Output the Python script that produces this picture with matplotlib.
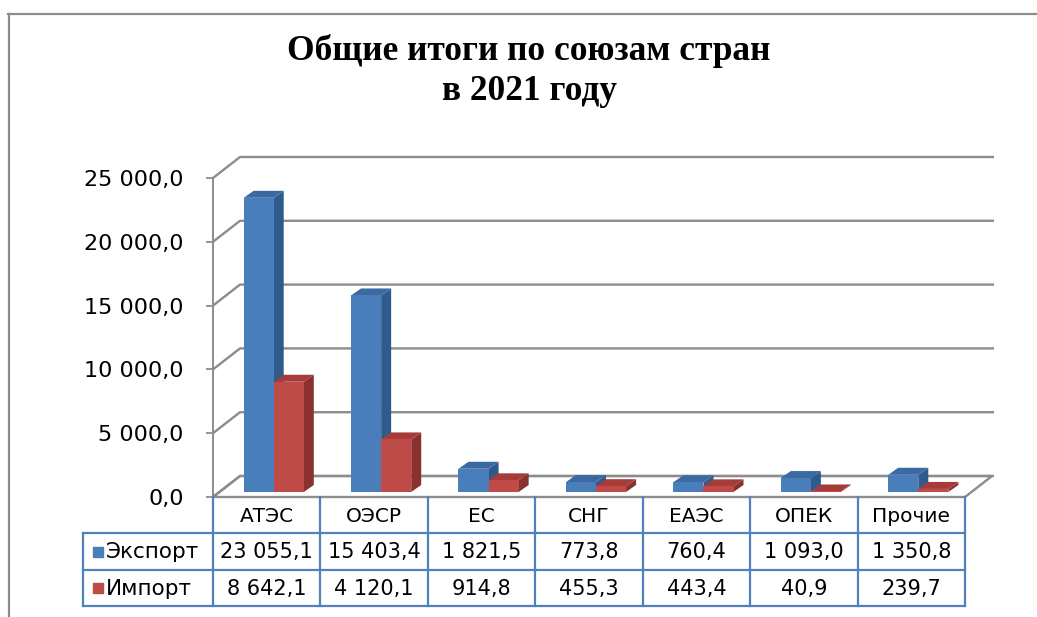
import matplotlib
matplotlib.use("Agg")
import matplotlib.pyplot as plt
from matplotlib.patches import Polygon
from matplotlib.lines import Line2D

# ---------------- data ----------------
categories = ["АТЭС", "ОЭСР", "ЕС", "СНГ", "ЕАЭС", "ОПЕК", "Прочие"]
export_vals = [23055.1, 15403.4, 1821.5, 773.8, 760.4, 1093.0, 1350.8]
import_vals = [8642.1, 4120.1, 914.8, 455.3, 443.4, 40.9, 239.7]
series_names = ["Экспорт", "Импорт"]
y_ticks = [0, 5000, 10000, 15000, 20000, 25000]
title = "Общие итоги по союзам стран\nв 2021 году"


def fmt(v):
    return f"{v:,.1f}".replace(",", " ").replace(".", ",")


# ---------------- styling ----------------
W, H = 1037, 617
GRAY = "#8c8c8c"
TBL = "#4f81bd"
BLUE = ("#4a7ebb", "#2f5a8c", "#3b6aa3")   # front, side, top
RED = ("#be4b48", "#8a302d", "#a53c39")

plt.rcParams["font.family"] = ["DejaVu Sans"]

fig = plt.figure(figsize=(W / 100, H / 100), dpi=100)
fig.patch.set_facecolor("white")


def fx(px):
    return px / W


def fy(py):
    return 1 - py / H


n = len(categories)
ax = fig.add_axes([fx(213), fy(497), fx(965) - fx(213), fy(178) - fy(497)])
ax.set_xlim(0, n)
ax.set_ylim(0, 25000)
ax.patch.set_visible(False)
for s in ["top", "right", "bottom"]:
    ax.spines[s].set_visible(False)
ax.spines["left"].set_color(GRAY)
ax.spines["left"].set_linewidth(1.4)
ax.set_xticks([])
ax.set_yticks(y_ticks)
ax.set_yticklabels([fmt(v) for v in y_ticks])
ax.tick_params(axis="y", length=5, width=1.3, color=GRAY, pad=16,
               labelsize=16, labelcolor="black")

ppx = ax.bbox.width / n
ppy = ax.bbox.height / 25000

# wall depth, bar depth offsets (pixels)
DX, DY = 27, 21
BX, BY = 7, 5
SX, SY = 10, 7

# floor
dxw, dyw = DX / ppx, DY / ppy
floor = Polygon([(0, 0), (n, 0), (n + dxw, dyw), (dxw, dyw)], closed=True,
                facecolor="white", edgecolor=GRAY, lw=1.7, clip_on=False, zorder=1)
ax.add_patch(floor)

# gridlines (left wall diagonals + back lines)
for v in y_ticks:
    ax.plot([0, dxw, n + dxw + 2 / ppx], [v, v + dyw, v + dyw], color=GRAY,
            lw=1.7, clip_on=False, zorder=1.5, solid_capstyle="butt")

w = 0.28
bx, by = BX / ppx, BY / ppy
sx, sy = SX / ppx, SY / ppy


def bars3d(lefts, vals, colors, z):
    front, side, top = colors
    for x0, v in zip(lefts, vals):
        xb = x0 + bx
        ax.add_patch(Polygon([(xb + w, by), (xb + w + sx, by + sy),
                              (xb + w + sx, by + v + sy), (xb + w, by + v)],
                             closed=True, facecolor=side, edgecolor="none",
                             clip_on=False, zorder=z))
        ax.add_patch(Polygon([(xb, by + v), (xb + w, by + v),
                              (xb + w + sx, by + v + sy), (xb + sx, by + v + sy)],
                             closed=True, facecolor=top, edgecolor="none",
                             clip_on=False, zorder=z))
    ax.bar([x + bx for x in lefts], vals, width=w, bottom=by, align="edge",
           color=front, edgecolor="none", clip_on=False, zorder=z + 0.5)


centers = [i + 0.5 for i in range(n)]
bars3d([c - w for c in centers], export_vals, BLUE, 3)
bars3d([c for c in centers], import_vals, RED, 4)

# ---------------- data table ----------------
tax = fig.add_axes([fx(83), fy(606), fx(965) - fx(83), fy(497) - fy(606)])
xmin = -(213 - 83) / ppx
tax.set_xlim(xmin, n)
tax.set_ylim(3, 0)
tax.axis("off")
lw_t = 1.6
for k in range(n + 1):
    tax.plot([k, k], [0, 3], color=TBL, lw=lw_t, clip_on=False)
tax.plot([xmin, xmin], [1, 3], color=TBL, lw=lw_t, clip_on=False)
for r in [1, 2, 3]:
    tax.plot([xmin, n], [r, r], color=TBL, lw=lw_t, clip_on=False)

FS = 14.5
for i, cat in enumerate(categories):
    tax.text(i + 0.5, 0.55, cat, ha="center", va="center", fontsize=FS)
    tax.text(i + 0.5, 1.52, fmt(export_vals[i]), ha="center", va="center", fontsize=FS + 0.5)
    tax.text(i + 0.5, 2.52, fmt(import_vals[i]), ha="center", va="center", fontsize=FS + 0.5)

for r, (name, col) in enumerate(zip(series_names, [BLUE[0], RED[0]])):
    tax.plot([xmin + 14.5 / ppx], [1.5 + r], marker="s", ms=7, color=col,
             clip_on=False, ls="none")
    tax.text(xmin + 23 / ppx, 1.52 + r, name, ha="left", va="center", fontsize=FS + 1)

# ---------------- title and frame ----------------
fig.text(fx(529), fy(71), title, ha="center", va="center",
         fontsize=25.5, fontweight="bold", family="Liberation Serif",
         linespacing=1.25)

fig.add_artist(Line2D([fx(8.5), fx(8.5)], [fy(14), 0], transform=fig.transFigure,
                      color=GRAY, lw=1.6))
fig.add_artist(Line2D([fx(8), 1], [fy(14), fy(14)], transform=fig.transFigure,
                      color=GRAY, lw=1.6))

fig.savefig("out.png", dpi=100)
